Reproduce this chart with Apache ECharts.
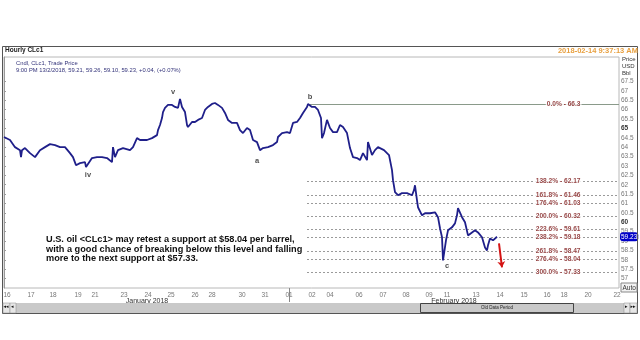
<!DOCTYPE html>
<html><head><meta charset="utf-8">
<script src="https://cdn.jsdelivr.net/npm/echarts@6/dist/echarts.min.js"></script>
<style>html,body{margin:0;padding:0;background:#fff}#c{width:640px;height:340px}</style>
</head><body><div id="c"></div>
<script>
// hour index (bars since chart start) and traced price
const hours = [0,6,11,16,17,18,21,26,31,36,41,46,51,56,61,66,69,72,76,81,82,84,88,93,98,103,108,109,111,114,119,121,126,129,133,136,139,143,148,153,154,156,158,159,161,164,168,171,174,176,178,181,183,184,188,191,194,198,201,204,208,211,214,218,221,224,228,233,236,239,243,246,249,253,256,259,264,269,273,274,278,283,286,289,293,296,299,303,304,308,311,314,317,318,320,323,326,329,333,336,339,343,346,349,353,356,359,363,364,368,371,374,380,385,388,389,391,394,398,403,408,410,411,413,414,418,421,426,431,434,436,438,439,442,444,448,451,453,454,458,461,464,468,471,474,478,481,483,484,486,489,493];
const prices = [64.54,64.38,64.00,63.84,63.47,63.84,63.95,63.68,63.47,63.84,64.00,64.16,64.11,64.00,64.00,63.68,63.47,63.04,63.15,63.20,62.94,63.10,63.42,63.47,63.47,63.42,63.20,64.00,63.47,63.84,63.95,63.95,63.84,64.00,64.48,64.38,64.38,64.38,64.48,64.64,64.91,65.18,65.55,65.87,66.09,66.25,66.25,66.14,66.09,66.57,66.14,65.87,65.18,65.07,65.34,65.34,65.45,65.55,65.98,66.14,66.30,66.35,66.25,66.09,65.82,65.45,65.29,65.29,64.91,64.75,65.02,64.91,64.38,64.27,63.84,63.95,64.00,64.11,64.27,64.54,64.75,64.80,64.75,65.29,65.34,65.55,65.82,66.14,66.30,66.14,66.14,65.98,65.55,64.48,64.75,65.45,65.02,64.80,64.80,65.18,65.07,64.75,63.95,63.47,63.42,63.31,63.68,63.31,64.27,63.58,63.84,64.00,63.84,63.58,62.78,62.24,61.60,61.44,61.55,61.55,61.44,61.71,61.97,61.17,60.80,60.37,60.48,60.48,60.53,60.27,59.68,59.20,57.97,59.04,59.57,59.73,59.94,60.37,60.75,60.27,60.00,59.30,59.46,59.57,59.46,59.20,58.66,58.50,58.77,59.14,59.04,59.23];

const fibLevels = [66.3, 62.17, 61.46, 61.03, 60.32, 59.61, 59.18, 58.47, 58.04, 57.33];
const fibPercents = ['0.0%','138.2%','161.8%','176.4%','200.0%','223.6%','238.2%','261.8%','276.4%','300.0%'];
const fibStartHour = [306,303,303,303,303,303,303,303,303,303];

const dateTickHours = [3,27,49,74,91,120,144,167,191,208,238,261,285,308,326,355,379,402,425,443,472,496,520,543,560,584,613];
const dateTickLabels = ['16','17','18','19','21','23','24','25','26','28','30','31','01','02','04','06','07','08','09','11','13','14','15','16','18','20','22'];
const monthHours = [143,450];
const monthLabels = ['January 2018','February 2018'];

const priceTicks = [57,57.5,58,58.5,59,59.5,60,60.5,61,61.5,62,62.5,63,63.5,64,64.5,65,65.5,66,66.5,67,67.5];

const waveHours = [84,169,253,306,443];
const waveValues = [62.51,66.94,63.26,66.67,57.65];
const waveLabels = ['iv','v','a','b','c'];

const lastPrice = 59.23;
const arrowFrom = [495, 58.88];
const arrowTo = [498, 57.60];

const FONT = 'Liberation Sans';
const chart = echarts.init(document.getElementById('c'), null, {renderer:'canvas'});

const fibLines = fibLevels.map((v,i)=>[
  {coord:[fibStartHour[i], v], lineStyle:{type: i===0 ? 'solid' : [2,2], color: i===0 ? '#8a9a8a' : '#9a9a9a', width:1}},
  {coord:[615, v]}
]);

const option = {
  animation:false,
  backgroundColor:'#fff',
  textStyle:{fontFamily:FONT},
  grid:{left:4, right:21, top:57, bottom:52, show:true, borderColor:'#b8b8b8', borderWidth:1, backgroundColor:'#fff'},
  xAxis:[{
    type:'value', min:0, max:615, position:'bottom',
    axisLine:{show:false}, splitLine:{show:false}, axisPointer:{show:false},
    axisTick:{show:true, customValues:[285], length:14, lineStyle:{color:'#888'}},
    axisLabel:{customValues:dateTickHours, fontSize:6.5, color:'#777', margin:4, fontFamily:FONT,
      formatter:(v)=>{const i=dateTickHours.indexOf(v); return i>=0?dateTickLabels[i]:'';}}
  },{
    type:'value', min:0, max:615, position:'bottom',
    axisLine:{show:false}, splitLine:{show:false}, axisTick:{show:false}, axisPointer:{show:false},
    axisLabel:{customValues:monthHours, fontSize:7, color:'#333', margin:10, fontFamily:FONT,
      formatter:(v)=>{const i=monthHours.indexOf(v); return i>=0?monthLabels[i]:'';}}
  }],
  yAxis:{
    type:'value', position:'right', min:56.5, max:68.8, interval:0.5,
    axisLine:{show:true, lineStyle:{color:'#999'}},
    axisTick:{show:true, customValues:priceTicks, length:2, lineStyle:{color:'#999'}},
    splitLine:{show:false},
    axisLabel:{customValues:priceTicks, fontSize:6.5, color:'#777', margin:2, fontFamily:FONT,
      formatter:(v)=> (v%5===0) ? '{b|'+v+'}' : String(v),
      rich:{b:{fontWeight:'bold', color:'#333', fontSize:6.5, fontFamily:FONT}}},
    axisPointer:{show:true, value:lastPrice, status:'show', triggerTooltip:false,
      lineStyle:{opacity:0},
      label:{show:true, backgroundColor:'#0000c8', color:'#fff', fontSize:6.5, padding:[1,1], margin:1, fontFamily:FONT,
        formatter:()=>lastPrice.toFixed(2)}}
  },
  series:[
    {
      type:'line', data: hours.map((h,i)=>[h, prices[i]]), symbol:'none',
      lineStyle:{color:'#1f1f8a', width:1.8}, z:5,
      markLine:{silent:true, symbol:'none', label:{show:false}, data: fibLines, z:2}
    },
    {
      type:'scatter', data: fibLevels.map(v=>[578, v]), symbolSize:1, itemStyle:{color:'transparent'}, z:6,
      label:{show:true, position:'left', distance:0, fontSize:6.6, fontWeight:'bold', color:'#7a1414', fontFamily:FONT,
        backgroundColor:'#fff', padding:[0,1],
        formatter:(p)=> fibPercents[p.dataIndex]+' - '+fibLevels[p.dataIndex]}
    },
    {
      type:'scatter', data: waveHours.map((h,i)=>[h, waveValues[i]]), symbolSize:1, itemStyle:{color:'transparent'}, z:6,
      label:{show:true, position:'inside', fontSize:7.5, fontWeight:'bold', color:'#222', fontFamily:FONT,
        formatter:(p)=> waveLabels[p.dataIndex]}
    },
    {
      type:'line', data:[], symbol:'none',
      markLine:{silent:true, symbol:['none','arrow'], symbolSize:6, label:{show:false},
        lineStyle:{color:'#d41414', width:2, type:'solid'},
        data:[[{coord:arrowFrom},{coord:arrowTo}]]}
    }
  ],
  graphic:[
    {type:'rect', shape:{x:2.5, y:46.5, width:635, height:267}, style:{fill:'none', stroke:'#555', lineWidth:1}, z:100},
    {type:'text', left:5, top:47, style:{text:'Hourly CLc1', fontSize:6.5, fontWeight:'bold', fill:'#222', fontFamily:FONT}, z:100},
    {type:'text', right:2, top:47, style:{text:'2018-02-14 9:37:13 AM', fontSize:7.5, fontWeight:'bold', fill:'#e8a040', fontFamily:FONT}, z:100},
    {type:'text', left:16, top:60, style:{text:'Cndl, CLc1, Trade Price', fontSize:5.8, fill:'#33337a', fontFamily:FONT}, z:100},
    {type:'text', left:16, top:67, style:{text:'9:00 PM 13/2/2018, 59.21, 59.26, 59.10, 59.23, +0.04, (+0.07%)', fontSize:5.8, fill:'#33337a', fontFamily:FONT}, z:100},
    {type:'text', left:622, top:56, style:{text:'Price\nUSD\nBbl', fontSize:6, lineHeight:7, fill:'#333', fontFamily:FONT}, z:100},
    {type:'text', left:46, top:235, style:{text:'U.S. oil <CLc1> may retest a support at $58.04 per barrel,\nwith a good chance of breaking below this level and falling\nmore to the next support at $57.33.', fontSize:9.2, lineHeight:9.5, fontWeight:'bold', fill:'#111', fontFamily:FONT}, z:100},
    {type:'rect', shape:{x:621, y:283, width:16, height:9}, style:{fill:'#f2f2f2', stroke:'#888', lineWidth:1}, z:100},
    {type:'text', left:622.5, top:284.5, style:{text:'Auto', fontSize:6.5, fill:'#333', fontFamily:FONT}, z:101},
    {type:'rect', shape:{x:3, y:303, width:634, height:10}, style:{fill:'#c9c9c9'}, z:100},
    {type:'rect', shape:{x:3, y:303, width:7, height:10}, style:{fill:'#e6e6e6', stroke:'#888', lineWidth:0.5}, z:101},
    {type:'rect', shape:{x:10, y:303, width:6, height:10}, style:{fill:'#e6e6e6', stroke:'#888', lineWidth:0.5}, z:101},
    {type:'rect', shape:{x:624, y:303, width:6, height:10}, style:{fill:'#e6e6e6', stroke:'#888', lineWidth:0.5}, z:101},
    {type:'rect', shape:{x:630, y:303, width:7, height:10}, style:{fill:'#e6e6e6', stroke:'#888', lineWidth:0.5}, z:101},
    {type:'text', left:3.5, top:304.5, style:{text:'◂◂', fontSize:5, fill:'#111', fontFamily:'DejaVu Sans'}, z:102},
    {type:'text', left:11, top:304.5, style:{text:'◂', fontSize:5, fill:'#111', fontFamily:'DejaVu Sans'}, z:102},
    {type:'text', left:625, top:304.5, style:{text:'▸', fontSize:5, fill:'#111', fontFamily:'DejaVu Sans'}, z:102},
    {type:'text', left:630.5, top:304.5, style:{text:'▸▸', fontSize:5, fill:'#111', fontFamily:'DejaVu Sans'}, z:102},
    {type:'rect', shape:{x:420.5, y:303.5, width:153, height:9}, style:{fill:'none', stroke:'#444', lineWidth:1}, z:101},
    {type:'text', x:497, y:308, style:{text:'Old Data Period', fontSize:4.5, fill:'#222', align:'center', verticalAlign:'middle', fontFamily:FONT}, z:102}
  ]
};
chart.setOption(option);
</script></body></html>
